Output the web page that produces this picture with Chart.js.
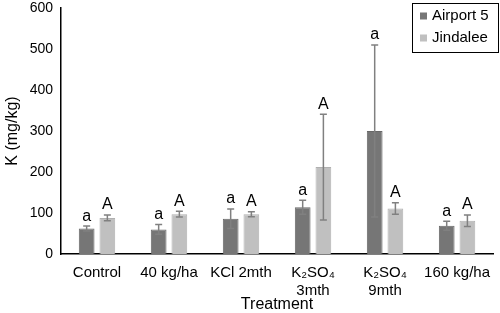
<!DOCTYPE html>
<html>
<head>
<meta charset="utf-8">
<script src="https://cdn.jsdelivr.net/npm/chart.js@4/dist/chart.umd.min.js"></script>
<style>
  html, body { margin: 0; padding: 0; background: #fff; }
  #wrap { width: 500px; height: 313px; }
</style>
</head>
<body>
<div id="wrap"><canvas id="kChart" width="500" height="313"></canvas></div>
<script>
const treatments = ['Control', '40 kg/ha', 'KCl 2mth', ['K\u2082SO\u2084', '3mth'], ['K\u2082SO\u2084', '9mth'], '160 kg/ha'];

const airport = [62, 60, 86, 114, 300, 69];
const airportErr = [6, 12, 24, 17, 210, 11];
const airportLetters = ['a', 'a', 'a', 'a', 'a', 'a'];

const jindalee = [88, 97, 97, 212, 111, 81];
const jindaleeErr = [7, 7, 6, 129, 14, 14];
const jindaleeLetters = ['A', 'A', 'A', 'A', 'A', 'A'];

const FONT = '"Liberation Sans", Arial, Helvetica, sans-serif';

// error bars + significance letters
const errorBars = {
    id: 'errorBars',
    afterDatasetsDraw(chart) {
        const ctx = chart.ctx;
        const yScale = chart.scales.y;
        chart.data.datasets.forEach((ds, i) => {
            const meta = chart.getDatasetMeta(i);
            meta.data.forEach((bar, j) => {
                const v = ds.data[j];
                const e = ds.errors[j];
                const top = yScale.getPixelForValue(v + e);
                const bottom = yScale.getPixelForValue(v - e);
                ctx.save();
                ctx.strokeStyle = '#808080';
                ctx.lineWidth = 1.5;
                ctx.beginPath();
                ctx.moveTo(bar.x, top);
                ctx.lineTo(bar.x, bottom);
                ctx.moveTo(bar.x - 3.5, top);
                ctx.lineTo(bar.x + 3.5, top);
                ctx.moveTo(bar.x - 3.5, bottom);
                ctx.lineTo(bar.x + 3.5, bottom);
                ctx.stroke();
                ctx.fillStyle = '#000';
                ctx.font = '16px ' + FONT;
                ctx.textAlign = 'center';
                ctx.textBaseline = 'bottom';
                ctx.fillText(ds.letters[j], bar.x, top - 2);
                ctx.restore();
            });
        });
    }
};

// boxed legend in the top right corner
const boxLegend = {
    id: 'boxLegend',
    afterDraw(chart) {
        const ctx = chart.ctx;
        const x = 412, y = 3, w = 86, h = 49;
        ctx.save();
        ctx.strokeStyle = '#000';
        ctx.lineWidth = 1;
        ctx.strokeRect(x + 0.5, y + 0.5, w, h);
        ctx.font = '15px ' + FONT;
        ctx.textBaseline = 'middle';
        ctx.textAlign = 'left';
        chart.data.datasets.forEach((ds, i) => {
            const cy = y + 13 + i * 22;
            ctx.fillStyle = ds.backgroundColor;
            ctx.fillRect(x + 8, cy - 3.5, 7, 7);
            ctx.fillStyle = '#000';
            ctx.fillText(ds.label, x + 20, cy);
        });
        ctx.restore();
    }
};

new Chart(document.getElementById('kChart'), {
    type: 'bar',
    data: {
        labels: treatments,
        datasets: [
            {
                label: 'Airport 5',
                data: airport,
                errors: airportErr,
                letters: airportLetters,
                backgroundColor: '#767676',
                borderColor: '#686868',
                borderWidth: 1,
                categoryPercentage: 0.575,
                barPercentage: 0.76
            },
            {
                label: 'Jindalee',
                data: jindalee,
                errors: jindaleeErr,
                letters: jindaleeLetters,
                backgroundColor: '#c0c0c0',
                borderColor: '#b0b0b0',
                borderWidth: 1,
                categoryPercentage: 0.575,
                barPercentage: 0.76
            }
        ]
    },
    options: {
        responsive: false,
        animation: false,
        layout: { padding: { top: 8, right: 0, bottom: 0, left: 0 } },
        plugins: {
            legend: { display: false },
            tooltip: { enabled: false }
        },
        scales: {
            x: {
                grid: { display: false, drawTicks: false },
                border: { color: '#000', width: 1.5 },
                ticks: {
                    color: '#000',
                    font: { family: FONT, size: 15 },
                    padding: 10,
                    maxRotation: 0,
                    autoSkip: false
                },
                title: {
                    display: true,
                    text: 'Treatment',
                    color: '#000',
                    font: { family: FONT, size: 16 },
                    padding: { top: 0, bottom: -1 }
                },
                afterFit(scale) { scale.height = 59; }
            },
            y: {
                min: 0,
                max: 600,
                grid: { display: false, drawTicks: false },
                border: { color: '#000', width: 1.5 },
                ticks: {
                    stepSize: 100,
                    color: '#000',
                    font: { family: FONT, size: 14 },
                    padding: 8
                },
                title: {
                    display: true,
                    text: 'K (mg/kg)',
                    color: '#000',
                    font: { family: FONT, size: 16 },
                    padding: { top: 3, bottom: 0 }
                },
                afterFit(scale) {
                    scale.width = 61;
                    scale.paddingTop = 0;
                    scale.paddingBottom = 0;
                }
            }
        }
    },
    plugins: [errorBars, boxLegend]
});
</script>
</body>
</html>
